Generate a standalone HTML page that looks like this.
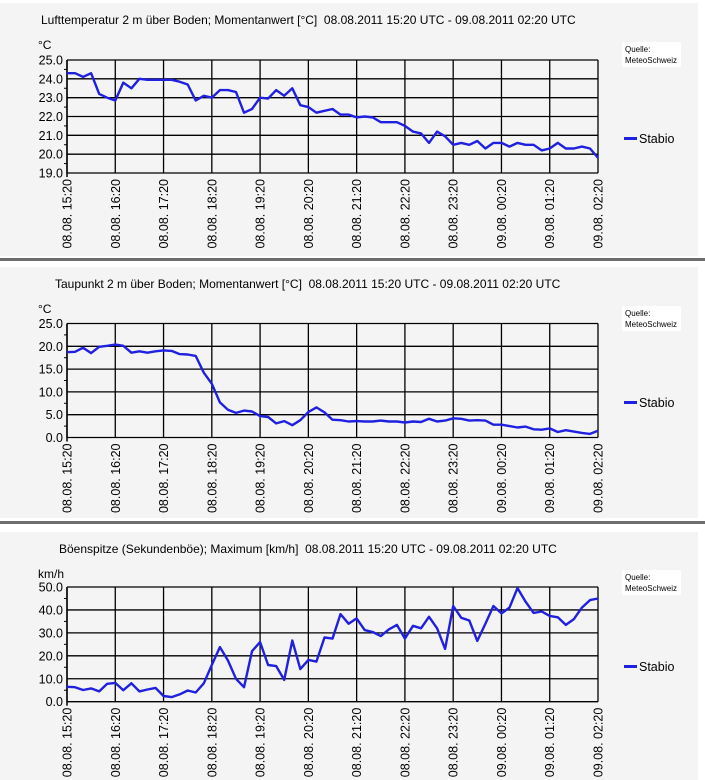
<!DOCTYPE html>
<html><head><meta charset="utf-8"><style>
html,body{margin:0;padding:0;background:#fff;width:705px;height:780px;overflow:hidden}
svg{display:block;font-family:"Liberation Sans",sans-serif}
text{white-space:pre}
</style></head><body>
<svg id="root" width="705" height="780" xmlns="http://www.w3.org/2000/svg"></svg>
<script>
const xLabels = ["08.08. 15:20","08.08. 16:20","08.08. 17:20","08.08. 18:20","08.08. 19:20","08.08. 20:20","08.08. 21:20","08.08. 22:20","08.08. 23:20","09.08. 00:20","09.08. 01:20","09.08. 02:20"];
const tempValues = [24.3,24.3,24.1,24.3,23.2,23.0,22.85,23.8,23.5,24.0,23.95,23.95,23.95,23.95,23.85,23.7,22.85,23.1,23.0,23.4,23.4,23.3,22.2,22.4,23.0,22.95,23.4,23.1,23.5,22.6,22.5,22.2,22.3,22.4,22.1,22.1,21.95,22.0,21.95,21.7,21.7,21.7,21.5,21.2,21.1,20.6,21.2,20.95,20.5,20.6,20.5,20.7,20.3,20.6,20.6,20.4,20.6,20.5,20.5,20.2,20.3,20.6,20.3,20.3,20.4,20.3,19.8];
const dewValues = [18.7,18.8,19.7,18.5,19.9,20.1,20.4,20.1,18.6,18.9,18.6,18.9,19.1,19.0,18.3,18.2,17.9,14.2,11.8,7.7,6.1,5.4,5.9,5.7,4.7,4.5,3.1,3.6,2.7,3.8,5.6,6.6,5.5,3.9,3.8,3.5,3.6,3.5,3.5,3.7,3.5,3.5,3.3,3.5,3.4,4.1,3.5,3.7,4.2,4.1,3.7,3.8,3.7,2.8,2.8,2.5,2.2,2.4,1.8,1.7,2.0,1.2,1.6,1.3,1.0,0.8,1.5];
const gustValues = [6.5,6.3,5.1,5.8,4.5,7.8,8.2,5.0,8.0,4.5,5.3,6.0,2.5,2.0,3.2,4.9,4.0,8.0,16.0,23.8,18.0,10.0,6.3,22.0,26.0,16.0,15.5,9.5,26.7,14.2,18.2,17.5,28.0,27.5,38.2,34.0,36.3,31.2,30.4,28.6,31.5,33.5,27.5,33.1,32.0,37.0,32.0,23.0,41.7,36.6,35.4,26.5,34.0,41.7,38.5,41.0,49.5,43.6,38.7,39.3,37.4,36.8,33.5,36.0,41.0,44.3,45.0];
const tempTicks = ["19.0","20.0","21.0","22.0","23.0","24.0","25.0"];
const dewTicks = ["0.0","5.0","10.0","15.0","20.0","25.0"];
const gustTicks = ["0.0","10.0","20.0","30.0","40.0","50.0"];

const NS="http://www.w3.org/2000/svg";
const root=document.getElementById('root');
function mk(tag,attrs,parent){const e=document.createElementNS(NS,tag);for(const k in attrs)e.setAttribute(k,attrs[k]);(parent||root).appendChild(e);return e;}

[258,521].forEach(y=>{
  const s=mk('rect',{x:0,y:y,width:705,height:3,fill:'#6e6e6e'});
  
  
});

function chart(cfg){
  const g=mk('g',{});
  
  
  const bg=mk('rect',{x:0,y:cfg.panelTop,width:698,height:cfg.panelH,fill:'#f4f4f4'},g);
  
  
  const L=67,R=598,T=cfg.top,B=cfg.bottom;
  const min=parseFloat(cfg.ticks[0]),max=parseFloat(cfg.ticks[cfg.ticks.length-1]);
  const yS=v=>B-(v-min)/(max-min)*(B-T);
  const n=cfg.values.length;
  const xS=i=>L+i*(R-L)/(n-1);
  const xH=h=>L+h*(R-L)/(xLabels.length-1);
  const title=mk('text',{x:cfg.titleX,y:cfg.titleY,'font-size':12,fill:'#000'},g);
  title.textContent=cfg.title;
  
  
  const unit=mk('text',{x:38,y:cfg.titleY+25,'font-size':12,fill:'#000'},g);
  unit.textContent=cfg.unit;
  
  
  cfg.ticks.forEach(t=>{
    const y=yS(parseFloat(t));
    const ln=mk('line',{x1:L,x2:R,y1:y,y2:y,stroke:'#000','stroke-width':1.3},g);
    
    
    const tx=mk('text',{x:L-4,y:y+4.5,'font-size':12.5,'text-anchor':'end',fill:'#000'},g);
    tx.textContent=t;
    
    
  });
  for(let k=0;k<cfg.ticks.length-1;k++){
    const y=(yS(parseFloat(cfg.ticks[k]))+yS(parseFloat(cfg.ticks[k+1])))/2;
    const m=mk('line',{x1:L-3,x2:L,y1:y,y2:y,stroke:'#000','stroke-width':1},g);
    
    
  }
  xLabels.forEach((lab,h)=>{
    const x=xH(h);
    const ln=mk('line',{x1:x,x2:x,y1:T,y2:B,stroke:'#000','stroke-width':1.3},g);
    
    
    const tx=mk('text',{x:0,y:0,'font-size':12.5,'text-anchor':'end',fill:'#000',transform:`translate(${x+4.5},${B+6}) rotate(-90)`},g);
    tx.textContent=lab;
    
    
  });
  const ax=mk('line',{x1:L,x2:L,y1:T,y2:B+4,stroke:'#000','stroke-width':1.5},g);
  
  
  const pts=cfg.values.map((v,i)=>xS(i).toFixed(1)+','+yS(v).toFixed(1)).join(' ');
  const pl=mk('polyline',{points:pts,fill:'none',stroke:'#2020e0','stroke-width':2.4,'stroke-linejoin':'round'},g);
  
  
  const sb=mk('rect',{x:622,y:cfg.srcY,width:59,height:25,fill:'#fff'},g);
  
  
  const s1=mk('text',{x:625,y:cfg.srcY+10,'font-size':8,fill:'#000'},g);s1.textContent='Quelle:';
  
  
  const s2=mk('text',{x:625,y:cfg.srcY+21,'font-size':8,fill:'#000'},g);s2.textContent='MeteoSchweiz';
  
  
  const lg=mk('rect',{x:624,y:cfg.legY-5,width:13,height:3,fill:'#2020e0'},g);
  
  
  const lt=mk('text',{x:639,y:cfg.legY+1,'font-size':12.5,fill:'#000'},g);lt.textContent='Stabio';
  
  
}

chart({name:'temperature-chart',panelTop:3,panelH:253,top:60,bottom:173,ticks:tempTicks,values:tempValues,titleX:41,titleY:24,
  title:'Lufttemperatur 2 m über Boden; Momentanwert [°C]  08.08.2011 15:20 UTC - 09.08.2011 02:20 UTC',unit:'°C',srcY:42,legY:142});
chart({name:'dewpoint-chart',panelTop:267,panelH:251,top:323.5,bottom:437.5,ticks:dewTicks,values:dewValues,titleX:55,titleY:288,
  title:'Taupunkt 2 m über Boden; Momentanwert [°C]  08.08.2011 15:20 UTC - 09.08.2011 02:20 UTC',unit:'°C',srcY:306,legY:406});
chart({name:'gust-chart',panelTop:532,panelH:248,top:587,bottom:701.7,ticks:gustTicks,values:gustValues,titleX:59,titleY:553,
  title:'Böenspitze (Sekundenböe); Maximum [km/h]  08.08.2011 15:20 UTC - 09.08.2011 02:20 UTC',unit:'km/h',srcY:570,legY:670});
</script>
</body></html>
